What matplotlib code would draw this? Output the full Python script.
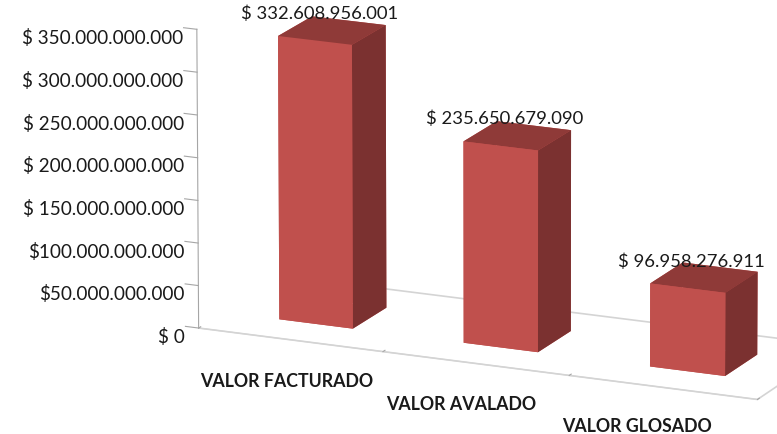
import matplotlib
matplotlib.use('Agg')
import matplotlib.pyplot as plt
import numpy as np

categories = ['VALOR FACTURADO', 'VALOR AVALADO', 'VALOR GLOSADO']
values = [332608956001, 235650679090, 96958276911]
value_labels = ['$ 332.608.956.001', '$ 235.650.679.090', '$ 96.958.276.911']
z_ticks = [0, 50e9, 100e9, 150e9, 200e9, 250e9, 300e9, 350e9]
z_tick_labels = ['$ 0', '$50.000.000.000', '$100.000.000.000', '$ 150.000.000.000',
                 '$ 200.000.000.000', '$ 250.000.000.000', '$ 300.000.000.000',
                 '$ 350.000.000.000']

plt.rcParams['font.family'] = ['Lato', 'DejaVu Sans']

front = '#c0504d'
top = '#8f3a38'
side = '#7b3130'

fig = plt.figure(figsize=(7.77, 4.34), dpi=100)
ax = fig.add_axes([0.196, -0.10, 0.92, 1.3], projection='3d')
ax.set_proj_type('persp', focal_length=5)
ax.view_init(elev=16, azim=-66)
ax.set_box_aspect((3, 1, 1.53), zoom=1.23)

n = len(values)
xs = np.arange(n) - 0.2
# face order in bar3d: -z, +z, -y, +y, -x, +x
face_colors = []
for _ in range(n):
    face_colors += [front, top, front, front, front, side]
ax.bar3d(xs, [0.3] * n, [0] * n, 0.4, 0.4, values, color=face_colors,
         shade=False, edgecolor='none')

ax.set_xlim(-0.5, 2.5)
ax.set_ylim(0, 1)
ax.set_zlim(0, 350e9)

ax.grid(False)
ax.xaxis.set_pane_color((1, 1, 1, 0))
ax.yaxis.set_pane_color((1, 1, 1, 0))
ax.zaxis.set_pane_color((1, 1, 1, 1))
ax.zaxis.pane.set_edgecolor('#d4d4d4')
ax.zaxis.pane.set_linewidth(1.2)

# put the value axis on the front-left edge
ax.zaxis._axinfo['juggled'] = (1, 2, 0)

ax.set_xticks([-0.5, 0.5, 1.5, 2.5])
ax.set_xticklabels([])
ax.set_yticks([])
ax.yaxis.line.set_color((1, 1, 1, 0))
ax.xaxis.line.set_color('#d4d4d4')
ax.zaxis.line.set_color('#a6a6a6')
ax.set_zticks(z_ticks)
ax.set_zticklabels(z_tick_labels, fontsize=13.6, color='#1a1a1a')
for t in ax.get_zticklabels():
    t.set_ha('right')
ax.zaxis._axinfo['tick']['inward_factor'] = 0
ax.zaxis._axinfo['tick']['outward_factor'] = 0.3
ax.xaxis._axinfo['tick']['inward_factor'] = 0
ax.xaxis._axinfo['tick']['outward_factor'] = 0.3
ax.tick_params(axis='z', colors='#a6a6a6', labelcolor='#1a1a1a', pad=-3.5)
ax.tick_params(axis='x', colors='#a6a6a6')
for a in (ax.xaxis, ax.yaxis, ax.zaxis):
    a.label.set_visible(False)
    a.offsetText.set_visible(False)

for i, (v, lab) in enumerate(zip(values, value_labels)):
    ax.text(i, 0.35, v + 22e9, lab, ha='center', va='baseline', fontsize=13.3,
            color='#1a1a1a')

for i, c in enumerate(categories):
    ax.text(i - 0.02 - 0.06 * i, 0, -50e9, c, ha='center', va='center',
            fontsize=12.8, fontweight='bold', color='#1a1a1a')

fig.savefig('out.png', dpi=100)
